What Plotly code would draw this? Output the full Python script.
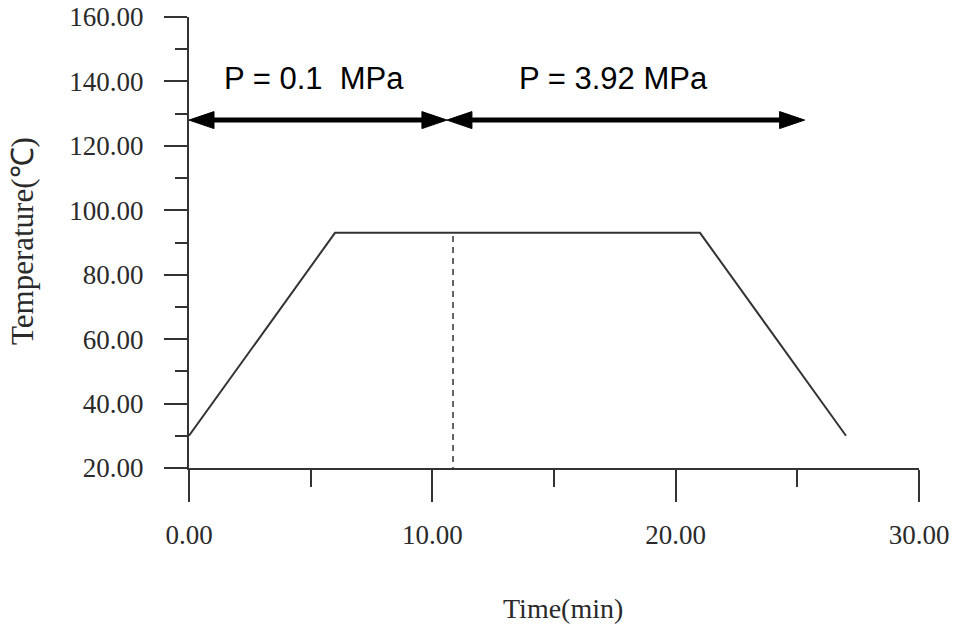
import plotly.graph_objects as go

# ---- data ----
time_min = [0, 6, 21, 27]
temperature_c = [30, 93, 93, 30]
switch_time = 10.85
switch_temp_top = 92
y_floor = 20

arrow_y = 128
arrow_low = [0, 10.6]        # P = 0.1 MPa span
arrow_high = [10.6, 25.3]    # P = 3.92 MPa span
labels = ["P = 0.1  MPa", "P = 3.92 MPa"]
label_x = [5.15, 17.45]
label_y = 141

x_range = [0, 30]
y_range = [20, 160]

# ---- geometry helpers (pixels -> data) ----
W, H = 955, 627
ml, mr, mt, mb = 189, 36, 17, 159
px_x = (W - ml - mr) / (x_range[1] - x_range[0])
px_y = (H - mt - mb) / (y_range[1] - y_range[0])
head_len = 25 / px_x
head_half = 8.5 / px_y

ink = "#333333"
fig = go.Figure()

fig.add_trace(go.Scatter(x=time_min, y=temperature_c, mode="lines",
                         line=dict(color=ink, width=2), showlegend=False, hoverinfo="skip"))
fig.add_trace(go.Scatter(x=[switch_time, switch_time], y=[switch_temp_top, y_floor], mode="lines",
                         line=dict(color=ink, width=1.5, dash="6px,5px"), showlegend=False, hoverinfo="skip"))

for span in (arrow_low, arrow_high):
    a, b = span
    fig.add_trace(go.Scatter(x=[a + head_len * 0.5, b - head_len * 0.5], y=[arrow_y, arrow_y], mode="lines",
                             line=dict(color="black", width=5), showlegend=False, hoverinfo="skip"))
    fig.add_trace(go.Scatter(x=[a, a + head_len, a + head_len, a],
                             y=[arrow_y, arrow_y + head_half, arrow_y - head_half, arrow_y],
                             mode="lines", fill="toself", fillcolor="black",
                             line=dict(color="black", width=1), showlegend=False, hoverinfo="skip"))
    fig.add_trace(go.Scatter(x=[b, b - head_len, b - head_len, b],
                             y=[arrow_y, arrow_y + head_half, arrow_y - head_half, arrow_y],
                             mode="lines", fill="toself", fillcolor="black",
                             line=dict(color="black", width=1), showlegend=False, hoverinfo="skip"))

annotations = []
for t, lx in zip(labels, label_x):
    annotations.append(dict(x=lx, y=label_y, xref="x", yref="y", text=t, showarrow=False,
                            font=dict(family="Liberation Sans, Arial", size=31, color="black")))

serif = "Liberation Serif, Times New Roman, serif"
annotations.append(dict(x=(22 - ml) / (W - ml - mr), y=(H - mb - 241) / (H - mt - mb),
                        xref="paper", yref="paper", xanchor="center", yanchor="middle",
                        text="Temperature(℃)", textangle=-90,
                        showarrow=False, font=dict(family=serif, size=31, color="#2a2a2a")))
annotations.append(dict(x=(563 - ml) / (W - ml - mr), y=(H - mb - 608) / (H - mt - mb),
                        xref="paper", yref="paper", xanchor="center", yanchor="middle",
                        text="Time(min)",
                        showarrow=False, font=dict(family=serif, size=28, color="#2a2a2a")))

fig.update_layout(
    template="none",
    width=W, height=H,
    margin=dict(l=ml, r=mr, t=mt, b=mb, pad=0),
    paper_bgcolor="white", plot_bgcolor="white",
    annotations=annotations,
    xaxis=dict(range=x_range, tick0=0, dtick=10, tickformat=".2f", showgrid=False, zeroline=False,
               automargin=False, showline=True, linecolor=ink, linewidth=2,
               ticks="outside", ticklen=32, tickwidth=2, tickcolor=ink, ticklabelstandoff=10,
               minor=dict(dtick=5, ticks="outside", ticklen=17, tickwidth=2, tickcolor=ink, showgrid=False),
               tickfont=dict(family=serif, size=27, color="#2a2a2a")),
    yaxis=dict(range=y_range, tick0=20, dtick=20, tickformat=".2f", showgrid=False, zeroline=False,
               automargin=False, showline=True, linecolor=ink, linewidth=2,
               ticks="outside", ticklen=23, tickwidth=2, tickcolor=ink, ticklabelstandoff=15,
               minor=dict(dtick=10, ticks="outside", ticklen=12, tickwidth=2, tickcolor=ink, showgrid=False),
               tickfont=dict(family=serif, size=27, color="#2a2a2a")),
)

fig.write_html("out.html")
